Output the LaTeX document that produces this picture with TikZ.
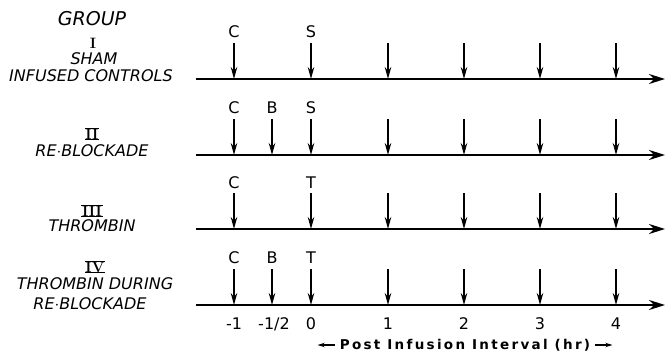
\documentclass[tikz,border=0pt]{standalone}
\usepackage{fontspec}
\setmainfont{DejaVu Sans}
\newfontfamily\romfont{Latin Modern Roman}
\usetikzlibrary{arrows.meta}
\begin{document}
\begin{tikzpicture}[x=1pt,y=-1pt,
  axis/.style={line width=2pt,-{Stealth[length=16pt,width=10pt]}},
  tick/.style={line width=1.5pt,-{Stealth[length=12pt,width=6.5pt]}},
  small/.style={line width=1.3pt,-{Stealth[length=7pt,width=4.5pt]}},
  evlabel/.style={font=\fontsize{16}{16}\selectfont,inner sep=0pt},
  numlabel/.style={font=\fontsize{16}{16}\selectfont,inner sep=0pt},
  grp/.style={font=\fontsize{16}{18}\selectfont\itshape,inner sep=0pt},
  roman/.style={font=\fontsize{15}{15}\romfont\bfseries,inner sep=0pt},
  bar/.style={line width=1.6pt}]
\useasboundingbox (0,0) rectangle (665,356);
% timelines
\foreach \g/\y in {1/79,2/155,3/229,4/305}{
  \coordinate (s\g) at (196,\y);
  \coordinate (e\g) at (665,\y);
  \draw[axis] (s\g) -- (e\g);
  \foreach \k/\x in {a/234,c/311,d/388,e/464,f/540,g/616}{
    \coordinate (t\g\k) at (\x,\y-36);
    \coordinate (b\g\k) at (\x,\y);
    \draw[tick] (t\g\k) -- (b\g\k);
  }
}
\foreach \g/\y in {2/155,4/305}{
  \coordinate (t\g b) at (272,\y-36);
  \coordinate (b\g b) at (272,\y);
  \draw[tick] (t\g b) -- (b\g b);
}
% event labels
\node[evlabel] (c1) at (234,32) {C};
\node[evlabel] (s1l) at (311,32) {S};
\node[evlabel] (c2) at (234,108) {C};
\node[evlabel] (b2) at (272,108) {B};
\node[evlabel] (s2l) at (311,108) {S};
\node[evlabel] (c3) at (234,183) {C};
\node[evlabel] (t3) at (311,183) {T};
\node[evlabel] (c4) at (234,258) {C};
\node[evlabel] (b4) at (272,258) {B};
\node[evlabel] (t4) at (311,258) {T};
% axis numbers
\node[numlabel] (n1) at (234,324) {-1};
\node[numlabel] (n2) at (274,324) {-1/2};
\node[numlabel] (n3) at (311,324) {0};
\node[numlabel] (n4) at (388,324) {1};
\node[numlabel] (n5) at (464,324) {2};
\node[numlabel] (n6) at (540,324) {3};
\node[numlabel] (n7) at (616,324) {4};
\node[inner sep=0pt,font=\fontsize{13.5}{13.5}\selectfont\bfseries\addfontfeature{LetterSpace=17}] (pil) at (465,345) {Post Infusion Interval (hr)};
\draw[small] ([xshift=-5pt]pil.west) -- ++(-17,0) coordinate (pl);
\draw[small] ([xshift=5pt]pil.east) -- ++(17,0) coordinate (pr);
% group labels
\node[grp,font=\fontsize{19}{19}\selectfont\itshape] (group) at (92,19) {GROUP};
\node[roman] (r1) at (93,43) {I};
\node[grp] (g1a) at (94,59) {SHAM};
\node[grp] (g1b) at (91,76) {INFUSED CONTROLS};
\node[roman] (r2) at (92,134) {II};
\node[grp] (g2) at (92,151) {RE$\cdot$BLOCKADE};
\node[roman] (r3) at (92,211) {III};
\node[grp] (g3) at (92,226) {THROMBIN};
\node[roman] (r4) at (95,267) {IV};
\node[grp] (g4a) at (95,284) {THROMBIN DURING};
\node[grp] (g4b) at (90,304) {RE$\cdot$BLOCKADE};
\foreach \r in {r2,r3,r4}{
  \draw[bar] ([xshift=-0.5pt]\r.north west) -- ([xshift=0.5pt]\r.north east);
  \draw[bar] ([xshift=-0.5pt]\r.south west) -- ([xshift=0.5pt]\r.south east);
}
\end{tikzpicture}
\end{document}
